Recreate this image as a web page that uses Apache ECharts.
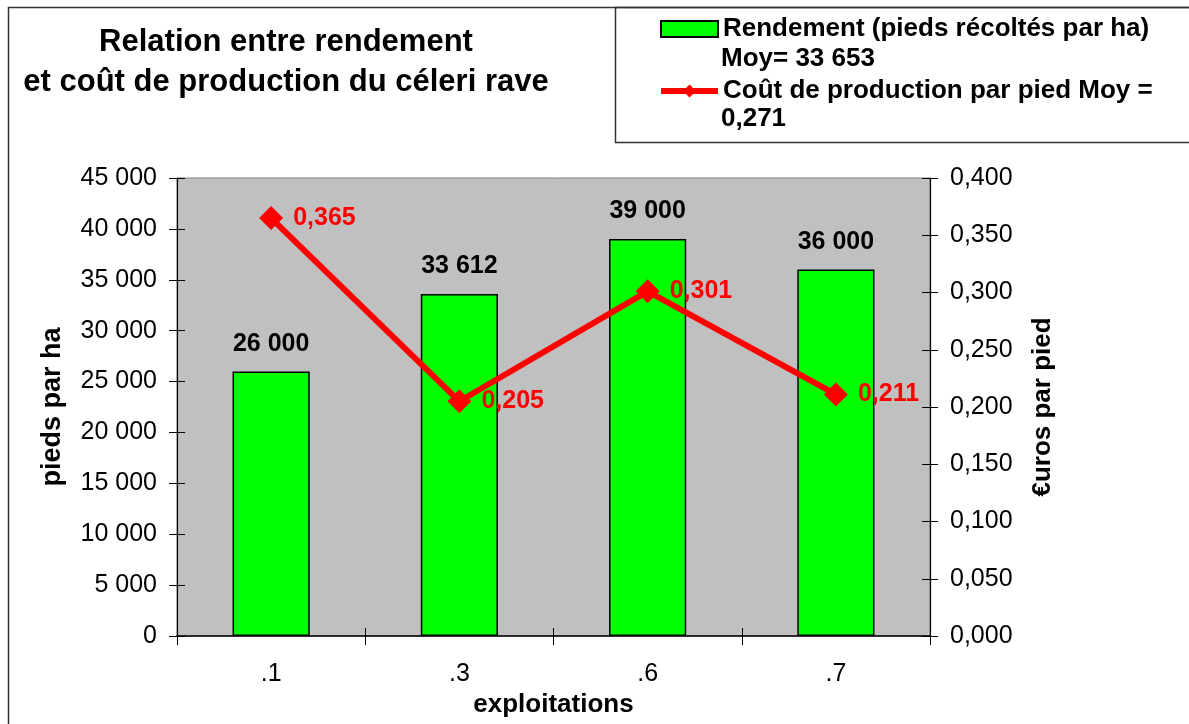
<!DOCTYPE html>
<html>
<head>
<meta charset="utf-8">
<script src="https://cdn.jsdelivr.net/npm/echarts@6/dist/echarts.min.js"></script>
<style>html,body{margin:0;padding:0;background:#fff;}#c{width:1189px;height:724px;}</style>
</head>
<body>
<div id="c"></div>
<script>
const categories = ['.1', '.3', '.6', '.7'];
const rendement = [26000, 33612, 39000, 36000];
const cout = [0.365, 0.205, 0.301, 0.211];
const leftTicks = { min: 0, max: 45000, interval: 5000 };
const rightTicks = { min: 0, max: 0.4, interval: 0.05 };
const nameBar = 'Rendement (pieds récoltés par ha)';
const nameBar2 = 'Moy= 33 653';
const nameLine = 'Coût de production par pied Moy =';
const nameLine2 = '0,271';

const FF = '"Liberation Sans", Arial, sans-serif';
const fmtThousands = v => String(Math.round(v)).replace(/\B(?=(\d{3})+(?!\d))/g, ' ');
const fmtDec = v => v.toFixed(3).replace('.', ',');

// companion axes that only draw the inner half of the crossing tick marks
const innerTicksY = (t, pos) => ({
  type: 'value', position: pos, min: t.min, max: t.max, interval: t.interval,
  axisLine: { show: false }, axisLabel: { show: false }, splitLine: { show: false },
  axisTick: { show: true, inside: true, length: 8, lineStyle: { color: '#000' } }
});

const chart = echarts.init(document.getElementById('c'));
chart.setOption({
  animation: false,
  backgroundColor: '#fff',
  textStyle: { fontFamily: FF },
  title: {
    text: 'Relation entre rendement\net coût de production du céleri rave',
    left: 281, top: 17, textAlign: 'center',
    textStyle: { fontFamily: FF, fontSize: 31, fontWeight: 'bold', color: '#000', lineHeight: 40 }
  },
  legend: {
    orient: 'vertical', left: 653, top: 9, itemWidth: 57, itemHeight: 16, itemGap: 32,
    textStyle: { fontFamily: FF, fontSize: 26, fontWeight: 'bold', color: '#000', lineHeight: 30 },
    data: [
      { name: nameBar, icon: 'rect' },
      { name: nameLine, lineStyle: { width: 6, color: '#ff0000' } }
    ]
  },
  graphic: [
    { type: 'rect', shape: { x: 8.5, y: 7.5, width: 1200, height: 740 }, style: { fill: 'none', stroke: '#333', lineWidth: 1.5 }, silent: true, z: -1 },
    { type: 'rect', shape: { x: 615.5, y: 7.5, width: 600, height: 135 }, style: { fill: 'none', stroke: '#333', lineWidth: 1.5 }, silent: true },
    { type: 'text', left: 721, top: 46, style: { text: nameBar2, font: 'bold 26px ' + FF, fill: '#000' } },
    { type: 'text', left: 721, top: 106, style: { text: nameLine2, font: 'bold 26px ' + FF, fill: '#000' } }
  ],
  grid: { left: 177, right: 259, top: 178, bottom: 88, show: true, backgroundColor: '#c0c0c0', borderColor: '#808080', borderWidth: 1 },
  xAxis: [
    {
      type: 'category', data: categories,
      name: 'exploitations', nameLocation: 'middle', nameGap: 53,
      nameTextStyle: { fontFamily: FF, fontSize: 26, fontWeight: 'bold', color: '#000' },
      axisLine: { lineStyle: { color: '#000', width: 1.5 } },
      axisTick: { show: true, length: 9, lineStyle: { color: '#000' } },
      axisLabel: { fontFamily: FF, fontSize: 25, color: '#000', margin: 26 }
    },
    {
      type: 'category', data: categories, position: 'bottom',
      axisLine: { show: false }, axisLabel: { show: false },
      axisTick: { show: true, inside: true, length: 8, lineStyle: { color: '#000' } }
    }
  ],
  yAxis: [
    {
      type: 'value', min: leftTicks.min, max: leftTicks.max, interval: leftTicks.interval,
      name: 'pieds par ha', nameLocation: 'middle', nameGap: 111, nameRotate: 90,
      nameTextStyle: { fontFamily: FF, fontSize: 27, fontWeight: 'bold', color: '#000' },
      axisLine: { show: true, lineStyle: { color: '#000', width: 1.2 } },
      axisTick: { show: true, length: 8, lineStyle: { color: '#000' } },
      axisLabel: { fontFamily: FF, fontSize: 25, color: '#000', margin: 20, formatter: fmtThousands },
      splitLine: { show: false }
    },
    {
      type: 'value', min: rightTicks.min, max: rightTicks.max, interval: rightTicks.interval,
      name: '€uros par pied', nameLocation: 'middle', nameGap: 100, nameRotate: 90,
      nameTextStyle: { fontFamily: FF, fontSize: 26, fontWeight: 'bold', color: '#000' },
      axisLine: { show: true, lineStyle: { color: '#000', width: 1.2 } },
      axisTick: { show: true, length: 8, lineStyle: { color: '#000' } },
      axisLabel: { fontFamily: FF, fontSize: 25, color: '#000', margin: 20, formatter: fmtDec },
      splitLine: { show: false }
    },
    innerTicksY(leftTicks, 'left'),
    innerTicksY(rightTicks, 'right')
  ],
  series: [
    {
      name: nameBar, type: 'bar', data: rendement, barWidth: '41%', yAxisIndex: 0, z: 3,
      itemStyle: { color: '#00ff00', borderColor: '#000', borderWidth: 1.5 },
      label: { show: true, position: 'top', distance: 15, formatter: p => fmtThousands(p.value), fontFamily: FF, fontSize: 25, fontWeight: 'bold', color: '#000' }
    },
    {
      name: nameLine, type: 'line', data: cout, yAxisIndex: 1, z: 4,
      symbol: 'diamond', symbolSize: 24,
      lineStyle: { color: '#ff0000', width: 6 },
      itemStyle: { color: '#ff0000' },
      label: { show: true, position: 'right', distance: 10, formatter: p => fmtDec(p.value), fontFamily: FF, fontSize: 25, fontWeight: 'bold', color: '#ff0000' }
    }
  ]
});
</script>
</body>
</html>
